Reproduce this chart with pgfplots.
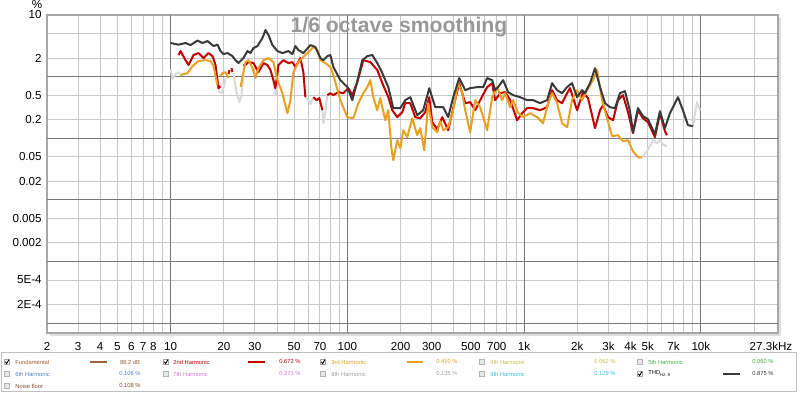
\documentclass[border=0pt]{standalone}
\usepackage{pgfplots}
\pgfplotsset{compat=1.18}
\usepackage{fontspec}
\setmainfont{Liberation Sans}
\definecolor{griddark}{HTML}{787878}
\definecolor{gridlight}{HTML}{C8C8C8}
\definecolor{framegray}{HTML}{A8A8A8}
\definecolor{thdc}{HTML}{3A3A3A}
\definecolor{h2c}{HTML}{C00000}
\definecolor{h3c}{HTML}{E8A020}
\definecolor{nfc}{HTML}{D9D9D9}
\definecolor{fundc}{HTML}{A0603C}
\definecolor{h4c}{HTML}{C8C040}
\definecolor{h5c}{HTML}{40B040}
\definecolor{h6c}{HTML}{5080D0}
\definecolor{h7c}{HTML}{E070E0}
\definecolor{h8c}{HTML}{A0A0A0}
\definecolor{h9c}{HTML}{30C0E0}
\definecolor{noisec}{HTML}{805030}
\newcommand{\tickfont}{\fontsize{5.8bp}{7bp}\selectfont}
\newcommand{\legfont}{\fontsize{2.9bp}{3.5bp}\selectfont}
\begin{document}
\begin{tikzpicture}
\useasboundingbox (0,0) rectangle (400bp,-197bp);
\begin{axis}[
 at={(23.5bp,-7.5bp)}, anchor=north west,
 scale only axis, width=365.5bp, height=159bp,
 xmode=log, ymode=log,
 xmin=2, xmax=27300, ymin=6.9e-5, ymax=10,
 axis line style={draw=framegray, line width=1bp},
 major tick length=0pt, minor tick length=0pt,
 grid=both,
 major grid style={gridlight, line width=0.5bp},
 minor grid style={gridlight, line width=0.5bp},
 xtick={2,3,4,5,6,7,8,20,30,50,70,200,300,500,700,2000,3000,4000,5000,7000},
 xticklabels={2,3,4,5,6,7,8,20,30,50,70,200,300,500,700,2k,3k,4k,5k,7k},
 minor xtick={9,40,60,80,90,400,600,800,900,6000,8000,9000,20000},
 extra x ticks={10,100,1000,10000},
 extra x tick labels={10,100,1k,10k},
 extra x tick style={grid=major, major grid style={griddark, line width=0.5bp}},
 ytick={10,2,0.5,0.2,0.05,0.02,0.005,0.002,0.0005,0.0002},
 yticklabels={10,2,0.5,0.2,0.05,0.02,0.005,0.002,5E-4,2E-4},
 minor ytick={5},
 extra y ticks={1,0.1,0.01,0.001,0.0001},
 extra y tick labels={},
 extra y tick style={grid=major, major grid style={griddark, line width=0.5bp}},
 xticklabel style={font=\tickfont, anchor=north, inner sep=0pt, yshift=-4.5bp},
 yticklabel style={font=\tickfont, anchor=east, inner sep=0pt, xshift=-2.5bp},
 every axis plot/.append style={line width=1bp, line join=round, no marks},
]
% light gray (below noise) segments
\addplot[nfc] coordinates {(10,1.32)(10.26,0.91)(10.67,1.10)(11.10,1.18)(11.39,1.06)};
\addplot[nfc] coordinates {(18.43,0.727)(18.91,0.560)(19.42,0.539)(19.93,0.650)(20.46,0.946)};
\addplot[nfc] coordinates {(22.69,1.14)(23.60,0.560)(24.54,0.385)(25.18,0.500)(25.85,1.06)};
\addplot[nfc] coordinates {(37.70,1.06)(39.20,0.500)(40.23,0.650)(41.29,1.28)};
\addplot[nfc] coordinates {(57.89,0.464)(60.19,0.415)(61.80,0.357)(64.26,0.464)};
\addplot[nfc] coordinates {(72.25,0.285)(73.19,0.175)(75.11,0.265)(77.09,0.500)};
\addplot[nfc] coordinates {(4642,0.0491)(4953,0.0615)(5356,0.0928)(5643,0.0829)(5868,0.0928)(6101,0.0798)(6427,0.0741)};
\addplot[nfc] coordinates {(9013,0.157)(9493,0.385)(9872,0.285)};
% 2nd harmonic
\addplot[h2c] coordinates {(11.10,2.24)(11.39,2.60)(12.15,1.85)(12.64,1.54)(13.48,2.24)(14.39,2.41)(15.36,2.00)(16.39,2.41)(17.27,2.15)(17.96,1.54)(18.67,0.650)(19.16,0.701)};
\addplot[h2c] coordinates {(21.27,1.10)(21.54,1.28)};
\addplot[h2c] coordinates {(22.11,1.37)(22.40,1.18)};
\addplot[h2c] coordinates {(25.85,1.54)(26.53,1.54)(27.59,1.72)(29.44,1.66)(31.42,1.18)(33.53,1.66)(35.32,1.54)(36.73,1.28)(38.19,0.877)(39.20,0.650)(40.76,1.54)(43.50,1.85)(46.42,1.66)(48.89,1.72)(50.83,1.43)(54.25,2.00)(56.40,1.18)(57.89,0.464)};
\addplot[h2c] coordinates {(64.26,0.464)(66.82,0.415)(69.48,0.447)(72.25,0.285)};
\addplot[h2c] coordinates {(77.09,0.500)(80.17,0.539)(83.36,0.500)(88.96,0.560)(94.94,0.539)(101.3,0.650)(106.7,0.500)(113.9,0.814)(123.1,1.85)(134.9,1.72)(147.7,1.28)(157.7,0.784)(170.5,0.464)(179.6,0.285)(191.6,0.220)(204.5,0.265)(212.7,0.371)(227.0,0.371)(242.2,0.220)(258.4,0.211)(275.9,0.265)(290.7,0.464)(302.2,0.182)(322.5,0.140)(344.2,0.220)(372.1,0.135)(397.1,0.308)(429.4,0.784)(464.2,0.371)(495.3,0.385)(528.6,0.285)(564.1,0.415)(618.0,0.675)(659.6,0.784)(685.8,0.415)(731.9,0.539)(780.9,0.560)(833.5,0.415)(913.2,0.196)(974.3,0.255)(1040,0.308)(1124,0.308)(1231,0.285)(1349,0.319)(1440,0.603)(1536,0.415)(1640,0.371)(1750,0.539)(1819,0.650)(1993,0.285)(2154,0.560)(2299,0.447)(2518,0.146)(2688,0.285)(2795,0.344)(2983,0.220)(3183,0.196)(3397,0.415)(3625,0.500)(3869,0.265)(4129,0.121)(4407,0.285)(4703,0.211)(5018,0.182)(5497,0.104)(5868,0.255)(6262,0.130)(6427,0.112)};
% 3rd harmonic
\addplot[h3c] coordinates {(11.39,1.06)(12.47,1.14)(13.31,1.48)(14.39,1.79)(15.76,1.85)(16.83,1.79)(17.50,1.48)(18.43,0.727)};
\addplot[h3c] coordinates {(19.16,1.02)(19.67,1.14)(20.46,1.18)(21.27,0.946)};
\addplot[h3c] coordinates {(24.86,0.675)(26.53,1.72)(27.59,1.85)(29.06,1.37)(30.22,0.946)(31.42,1.37)(33.53,1.85)(35.79,2.00)(38.19,1.72)(40.23,0.877)(42.94,0.539)(45.82,0.255)(47.64,0.415)(49.53,1.18)(52.86,1.72)(56.40,2.08)(59.41,2.41)(64.26,3.02)(67.69,2.70)(70.39,1.85)(75.11,1.66)(80.17,1.43)(83.36,1.06)(91.31,0.415)(100,0.220)(108.1,0.211)(115.4,0.371)(123.1,0.539)(129.7,0.675)(134.9,0.877)(140.3,0.464)(147.7,0.285)(153.6,0.447)(163.9,0.196)(170.5,0.285)(177.3,0.0714)(181.9,0.0439)(191.6,0.0928)(199.3,0.0688)(207.2,0.135)(218.3,0.104)(232.9,0.211)(248.6,0.112)(258.4,0.146)(272.3,0.0638)(286.9,0.371)(302.2,0.151)(322.5,0.125)(335.3,0.189)(348.7,0.135)(372.1,0.151)(397.1,0.285)(423.8,0.784)(446.5,0.539)(464.2,0.285)(495.3,0.125)(528.6,0.415)(564.1,0.319)(618.0,0.135)(659.6,0.464)(703.9,0.675)(751.1,0.415)(780.9,0.539)(833.5,0.319)(866.7,0.415)(925.1,0.255)(987.2,0.220)(1081,0.255)(1184,0.220)(1280,0.175)(1367,0.371)(1440,0.539)(1536,0.371)(1640,0.175)(1750,0.151)(1867,0.415)(1993,0.603)(2127,0.415)(2270,0.603)(2454,0.877)(2585,1.28)(2759,0.415)(2944,0.211)(3142,0.108)(3397,0.112)(3625,0.0894)(3869,0.0928)(4129,0.0615)(4407,0.0491)(4642,0.0491)};
% THD
\addplot[thdc] coordinates {(10,3.51)(11.10,3.30)(12.15,3.51)(12.97,3.25)(14.21,3.85)(15.16,3.51)(16.18,3.78)(17.50,3.13)(18.43,3.31)(19.16,2.60)(19.93,2.32)(20.99,2.41)(22.40,2.15)(23.29,1.85)(24.22,1.66)(25.85,2.00)(27.23,2.60)(28.31,2.41)(29.44,2.91)(31.01,3.13)(33.10,4.23)(34.42,5.70)(35.79,4.73)(37.70,3.25)(40.23,2.60)(42.94,2.41)(46.42,2.60)(48.89,2.32)(50.83,3.13)(52.86,2.70)(56.40,2.41)(61.80,3.25)(65.96,3.02)(70.39,2.00)(73.19,1.85)(77.09,2.15)(80.17,2.24)(83.36,1.43)(91.31,0.877)(100,0.675)(106.7,0.415)(113.9,0.85)(121.5,1.85)(129.7,2.15)(138.4,2.24)(147.7,1.66)(157.7,1.14)(170.5,0.675)(181.9,0.308)(199.3,0.308)(212.7,0.415)(227.0,0.464)(248.6,0.237)(268.7,0.285)(290.7,0.650)(314.2,0.319)(348.7,0.319)(372.1,0.220)(397.1,0.464)(429.4,0.946)(464.2,0.603)(495.3,0.650)(542.5,0.675)(586.6,0.675)(618.0,0.946)(659.6,0.877)(685.8,0.603)(713.1,0.675)(761.0,0.877)(812.0,0.560)(866.7,0.500)(949.3,0.464)(1040,0.415)(1124,0.415)(1231,0.371)(1349,0.415)(1440,0.784)(1536,0.603)(1640,0.539)(1750,0.675)(1867,0.784)(1993,0.464)(2127,0.603)(2211,0.539)(2360,0.784)(2518,1.37)(2688,0.675)(2868,0.371)(3061,0.319)(3267,0.308)(3486,0.539)(3721,0.581)(3971,0.275)(4129,0.125)(4407,0.308)(4703,0.228)(5018,0.204)(5497,0.116)(5868,0.275)(6262,0.146)(6682,0.255)(7131,0.371)(7416,0.464)(7915,0.285)(8446,0.163)(9013,0.157)};
\end{axis}
\begin{scope}[x=0.5bp, y=-0.5bp]
 % frame shadow
 \draw[gray!25, line width=1bp] (780,18) -- (780,335) -- (50,335);
 % title and unit
 \node[font=\fontsize{10.6bp}{12bp}\selectfont\bfseries, text=gray!85!black!70, inner sep=0pt] at (399,27) {1/6 octave smoothing};
 \node[font=\tickfont, inner sep=0pt] at (37,5) {\%};
 \node[font=\tickfont, inner sep=0pt] at (771,346.5) {27.3kHz};
 % legend box
 \draw[gray!50, line width=0.5bp, fill=white] (2,353) rectangle (797,392);
 \newcommand{\cbox}[3]{%
  \ifnum#3=1
   \draw[gray!70, line width=0.3bp, fill=white] (#1-2.6,#2-2.6) rectangle (#1+2.6,#2+2.6);
   \draw[black, line width=0.45bp] (#1-1.6,#2-0.2) -- (#1-0.4,#2+1.6) -- (#1+1.9,#2-2.3);
  \else
   \draw[gray!60, line width=0.3bp, fill=gray!18] (#1-2.6,#2-2.6) rectangle (#1+2.6,#2+2.6);
  \fi}
 \begin{scope}[every node/.style={font=\legfont, inner sep=0pt}]
 % row 1
 \cbox{7}{362}{1}
 \node[anchor=west, text=fundc] at (15,362) {Fundamental};
 \draw[fundc, line width=0.6bp] (90,362) -- (107,362);
 \node[text=fundc] at (130,362) {88.2 dB};
 \cbox{166}{362}{1}
 \node[anchor=west, text=h2c] at (173,362) {2nd Harmonic};
 \draw[h2c, line width=0.6bp] (248,362) -- (265,362);
 \node[text=h2c] at (290,362) {0.672 \%};
 \cbox{323}{362}{1}
 \node[anchor=west, text=h3c] at (331,362) {3rd Harmonic};
 \draw[h3c, line width=0.6bp] (407,362) -- (423,362);
 \node[text=h3c] at (447,362) {0.410 \%};
 \cbox{482}{362}{0}
 \node[anchor=west, text=h4c] at (490,362) {4th Harmonic};
 \node[text=h4c] at (605,362) {0.062 \%};
 \cbox{640}{362}{0}
 \node[anchor=west, text=h5c] at (648,362) {5th Harmonic};
 \node[text=h5c] at (763,362) {0.060 \%};
 % row 2
 \cbox{7}{374}{0}
 \node[anchor=west, text=h6c] at (15,374) {6th Harmonic};
 \node[text=h6c] at (130,374) {0.106 \%};
 \cbox{166}{374}{0}
 \node[anchor=west, text=h7c] at (173,374) {7th Harmonic};
 \node[text=h7c] at (290,374) {0.271 \%};
 \cbox{323}{374}{0}
 \node[anchor=west, text=h8c] at (331,374) {8th Harmonic};
 \node[text=h8c] at (447,374) {0.135 \%};
 \cbox{482}{374}{0}
 \node[anchor=west, text=h9c] at (490,374) {9th Harmonic};
 \node[text=h9c] at (605,374) {0.129 \%};
 \cbox{640}{374}{1}
 \node[anchor=west, text=black] at (648,374) {THD\textsubscript{H2..9}};
 \draw[thdc, line width=0.6bp] (723,374) -- (740,374);
 \node[text=black!80] at (763,374) {0.875 \%};
 % row 3
 \cbox{7}{386}{0}
 \node[anchor=west, text=noisec] at (15,386) {Noise floor};
 \node[text=noisec] at (130,386) {0.108 \%};
 \end{scope}
\end{scope}
\end{tikzpicture}
\end{document}
